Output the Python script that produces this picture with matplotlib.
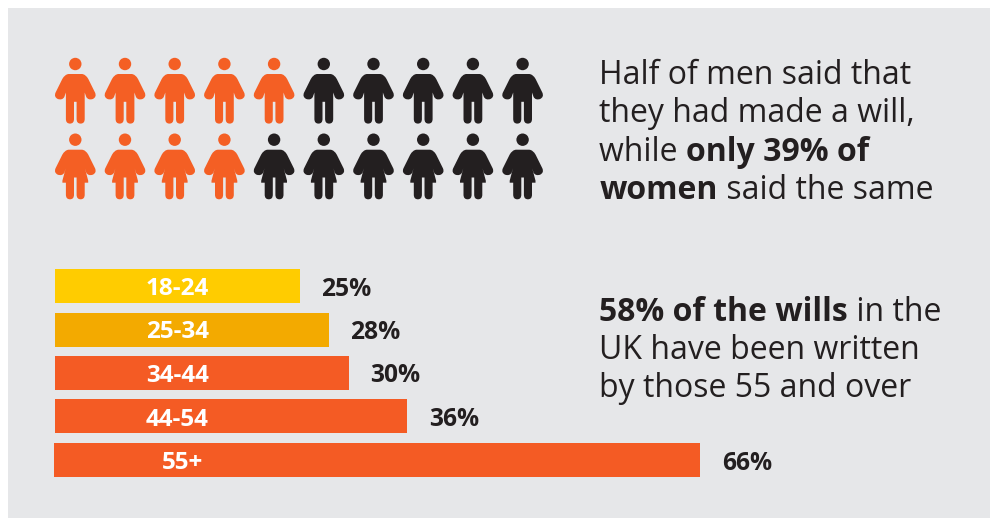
#!/usr/bin/env python3
"""Infographic on who has written a will: icon rows by gender and bars by age band."""

import matplotlib
matplotlib.use("Agg")
import matplotlib.pyplot as plt
from matplotlib.patches import Circle, PathPatch, Rectangle
from matplotlib.path import Path

age_bands = ["18-24", "25-34", "34-44", "44-54", "55+"]
age_values = [25, 28, 30, 36, 66]
age_colors = ["#FFCC00", "#F3AA00", "#F45B24", "#F45B24", "#F45B24"]
men_filled = 5    # out of ten
women_filled = 4
icons_per_row = 10

top_text = [
    [("Half of men said that", False)],
    [("they had made a will,", False)],
    [("while ", False), ("only 39% of", True)],
    [("women", True), (" said the same", False)],
]
bottom_text = [
    [("58% of the wills", True), (" in the", False)],
    [("UK have been written", False)],
    [("by those 55 and over", False)],
]

ORANGE = "#F45F24"
DARK = "#231F20"
PANEL = "#E6E7E9"
W, H = 990, 518

plt.rcParams["font.family"] = ["Open Sans", "DejaVu Sans"]

fig = plt.figure(figsize=(W / 100, H / 100), dpi=100, facecolor="white")

# page axes in pixels, y pointing down
page = fig.add_axes([0, 0, 1, 1])
page.set_xlim(0, W)
page.set_ylim(H, 0)
page.axis("off")
page.add_patch(Rectangle((8, 8), W - 8, H - 8, facecolor=PANEL, edgecolor="none"))

# right half of each silhouette, relative to the head centre: (code, points)
SHOULDER_AND_ARM = [
    (Path.LINETO, [(6.7, 10)]),
    (Path.CURVE3, [(10.5, 10.4), (13, 15)]),
    (Path.LINETO, [(19.8, 28.7)]),
    (Path.CURVE3, [(21.6, 33), (17.5, 35)]),
    (Path.CURVE3, [(13, 36.5), (11, 33)]),
]
LEG = [
    (Path.LINETO, [(9.4, 55)]),
    (Path.CURVE3, [(9.4, 59.6), (5.3, 59.6)]),
    (Path.CURVE3, [(1.3, 59.6), (1.3, 55)]),
    (Path.LINETO, [(1.3, 37.8)]),
    (Path.LINETO, [(0, 37.8)]),
]
MAN = SHOULDER_AND_ARM + [(Path.LINETO, [(9.4, 28.5)])] + LEG
WOMAN = SHOULDER_AND_ARM + [
    (Path.LINETO, [(9.6, 28.5)]),
    (Path.LINETO, [(12.9, 41)]),
    (Path.LINETO, [(12.9, 43)]),
    (Path.LINETO, [(9.4, 43)]),
] + LEG


def silhouette(half, cx, cy):
    """Mirror a right-half outline into one closed path at (cx, cy)."""
    verts, codes = [(cx, cy + 10)], [Path.MOVETO]
    flat = [(0, 10)]
    seg_codes = []
    for code, pts in half:
        for px, py in pts:
            verts.append((cx + px, cy + py))
            codes.append(code)
            flat.append((px, py))
            seg_codes.append(code)
    # walk back up the left side, reversing each segment
    for k in range(len(flat) - 1, 0, -1):
        px, py = flat[k - 1]
        verts.append((cx - px, cy + py))
        codes.append(seg_codes[k - 1])
    verts.append((cx, cy + 10))
    codes.append(Path.CLOSEPOLY)
    return Path(verts, codes)


def person(ax, cx, cy, color, half):
    ax.add_patch(Circle((cx, cy), 6.2, facecolor=color, edgecolor="none", zorder=3))
    ax.add_patch(PathPatch(silhouette(half, cx, cy), facecolor=color, edgecolor="none", zorder=3))


for i in range(icons_per_row):
    x = 75.3 + i * 49.7
    person(page, x, 64, ORANGE if i < men_filled else DARK, MAN)
    person(page, x, 139.7, ORANGE if i < women_filled else DARK, WOMAN)


def text_lines(ax, x, baselines, lines, size=23):
    """Write lines made of regular and bold runs, one after the other."""
    renderer = fig.canvas.get_renderer()
    for y, runs in zip(baselines, lines):
        cursor = x
        for s, bold in runs:
            # non-breaking spaces so that the run ends are measured too
            s = s.replace(" ", "\u00a0")
            t = ax.text(cursor, y, s, fontsize=size, color=DARK, va="baseline", ha="left",
                        fontweight="bold" if bold else "normal")
            cursor += t.get_window_extent(renderer).width


text_lines(page, 599.2, [84, 122, 161, 199], top_text)
text_lines(page, 599.2, [321, 359, 397], bottom_text)

# bars on their own axes, x in percent
bars = fig.add_axes([55 / W, 1 - 481.75 / H, 645.8 / W, 217.5 / H])
bars.set_xlim(0, 66)
bars.set_ylim(len(age_bands) - 0.5, -0.5)
bars.axis("off")
positions = range(len(age_bands))
drawn = bars.barh(positions, age_values, height=34 / 43.5, color=age_colors)
# the last bar starts a pixel further left than the others
drawn[-1].set_x(-0.1)
drawn[-1].set_width(age_values[-1] + 0.1 - 0.05)
drawn[-1].set_clip_on(False)

label_x = [12.5, 12.5, 12.5, 12.5, 13.0]
for pos, band, val, lx in zip(positions, age_bands, age_values, label_x):
    bars.text(lx, pos, band, color="white", fontsize=17.5, fontweight="bold",
              ha="center", va="center_baseline")
    bars.annotate(f"{val}%", (val, pos), xytext=(15.4, 0), textcoords="offset points",
                  color=DARK, fontsize=17.7, fontweight="bold",
                  ha="left", va="center_baseline", annotation_clip=False)

fig.savefig("out.png", dpi=100)
